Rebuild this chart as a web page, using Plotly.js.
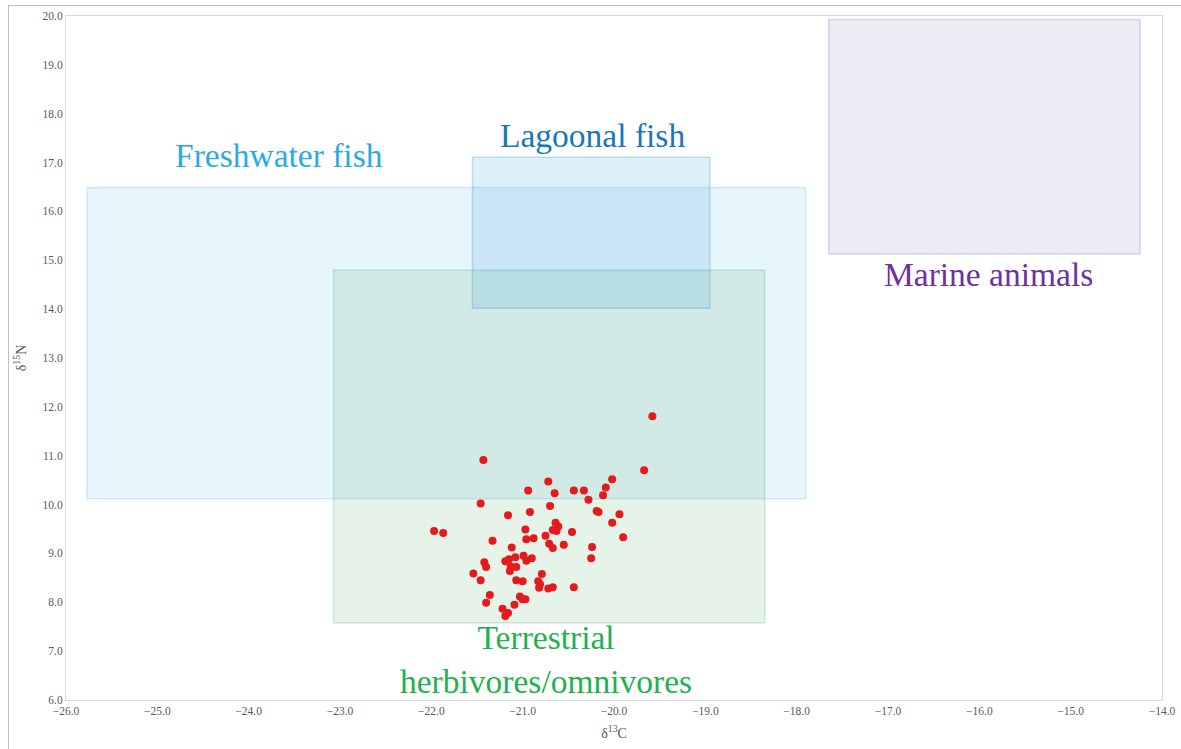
<!DOCTYPE html>
<html>
<head>
<meta charset="utf-8">
<script src="https://cdn.plot.ly/plotly-3.0.1.min.js"></script>
<style>
html,body{margin:0;padding:0;background:#fff;}
#wrap{position:relative;width:1181px;height:749px;}
#frame{position:absolute;left:8px;top:5px;width:1181px;height:760px;border-left:1px solid #bfbfbf;border-top:1px solid #bfbfbf;pointer-events:none;}
#chart{position:absolute;left:0;top:0;width:1181px;height:749px;}
</style>
</head>
<body>
<div id="wrap"><div id="chart"></div><div id="frame"></div></div>
<script>
// Sample isotope values (d13C, d15N)
var d13C = [-19.58,-19.67,-21.43,-20.02,-20.72,-20.09,-20.94,-20.44,-20.33,-20.65,
  -20.12,-20.28,-21.46,-20.70,-20.19,-20.17,-20.92,-21.16,-19.94,-20.64,
  -20.61,-20.67,-20.63,-20.02,-20.97,-20.46,-21.97,-21.87,-19.90,-20.75,
  -20.96,-20.88,-21.33,-20.71,-20.55,-20.67,-21.12,-20.24,-20.25,-20.99,
  -21.08,-20.90,-21.15,-21.19,-20.96,-21.42,-21.40,-21.13,-21.07,-21.14,
  -21.54,-20.79,-21.46,-21.07,-21.00,-20.83,-20.81,-20.82,-20.72,-20.67,
  -20.44,-21.36,-21.03,-21.00,-20.97,-21.40,-21.09,-21.22,-21.16,-21.19];
var d15N = [11.81,10.70,10.91,10.52,10.47,10.35,10.29,10.29,10.29,10.23,
  10.19,10.10,10.02,9.97,9.87,9.85,9.85,9.78,9.80,9.63,
  9.55,9.48,9.46,9.63,9.49,9.44,9.46,9.42,9.33,9.36,
  9.29,9.31,9.26,9.20,9.18,9.11,9.12,9.13,8.90,8.95,
  8.92,8.90,8.88,8.84,8.85,8.82,8.72,8.73,8.72,8.64,
  8.59,8.58,8.45,8.45,8.43,8.43,8.37,8.30,8.28,8.31,
  8.31,8.15,8.12,8.06,8.06,7.99,7.95,7.87,7.78,7.72];

// Reference ranges (boxes)
var groupNames = ["Freshwater fish","Terrestrial<br>herbivores/omnivores","Lagoonal fish","Marine animals"];
var boxC13min = [-25.77,-23.07,-21.55,-17.65];
var boxC13max = [-17.90,-18.35,-18.95,-14.24];
var boxN15min = [10.12,7.58,14.02,15.13];
var boxN15max = [16.49,14.80,17.11,19.93];
var labelC13 = [-23.67,-20.75,-20.24,-15.90];
var labelN15 = [17.15,6.82,17.56,14.70];

var xTicks = [-26,-25,-24,-23,-22,-21,-20,-19,-18,-17,-16,-15,-14];
var yTicks = [6,7,8,9,10,11,12,13,14,15,16,17,18,19,20];

var fills = ["rgba(91,185,232,0.15)","rgba(80,170,100,0.14)","rgba(60,160,215,0.17)","rgba(150,120,180,0.15)"];
var borders = ["rgba(91,185,232,0.25)","rgba(80,170,120,0.25)","rgba(60,160,215,0.30)","rgba(150,120,190,0.30)"];
var labelColors = ["#29abe2","#22b14c","#1b75bc","#7030a0"];

var serif = "Liberation Serif, Times New Roman, serif";
var shapes = [];
var annotations = [];
for (var i = 0; i < groupNames.length; i++) {
  shapes.push({type:"rect", xref:"x", yref:"y", x0:boxC13min[i], x1:boxC13max[i], y0:boxN15min[i], y1:boxN15max[i],
    fillcolor:fills[i], line:{color:borders[i], width:1.5}, layer:"below"});
  annotations.push({x:labelC13[i], y:labelN15[i], xref:"x", yref:"y", text:groupNames[i], showarrow:false,
    font:{family:serif, size:33.5, color:labelColors[i]}});
}

var trace = {x:d13C, y:d15N, type:"scatter", mode:"markers",
  marker:{color:"#e41a1c", size:8}, hoverinfo:"x+y"};

var tickFont = {family:serif, size:11.5, color:"#595959"};
var layout = {
  width:1181, height:749,
  margin:{l:66, r:19, t:16, b:49},
  paper_bgcolor:"rgba(0,0,0,0)", plot_bgcolor:"#ffffff",
  showlegend:false,
  xaxis:{range:[-26,-14], tickvals:xTicks, tickformat:".1f", showgrid:false, zeroline:false,
    showline:true, mirror:true, linecolor:"#d9d9d9", linewidth:1, ticks:"", tickfont:tickFont,
    title:{text:"δ<sup>13</sup>C", font:{family:serif, size:14, color:"#595959"}, standoff:12}},
  yaxis:{range:[6,20], tickvals:yTicks, tickformat:".1f", showgrid:false, zeroline:false,
    showline:true, mirror:true, linecolor:"#d9d9d9", linewidth:1, ticks:"", tickfont:tickFont,
    title:{text:"δ<sup>15</sup>N", font:{family:serif, size:14, color:"#595959"}, standoff:12}},
  shapes:shapes,
  annotations:annotations
};
Plotly.newPlot("chart",[trace],layout,{displayModeBar:false, staticPlot:true});
</script>
</body>
</html>
